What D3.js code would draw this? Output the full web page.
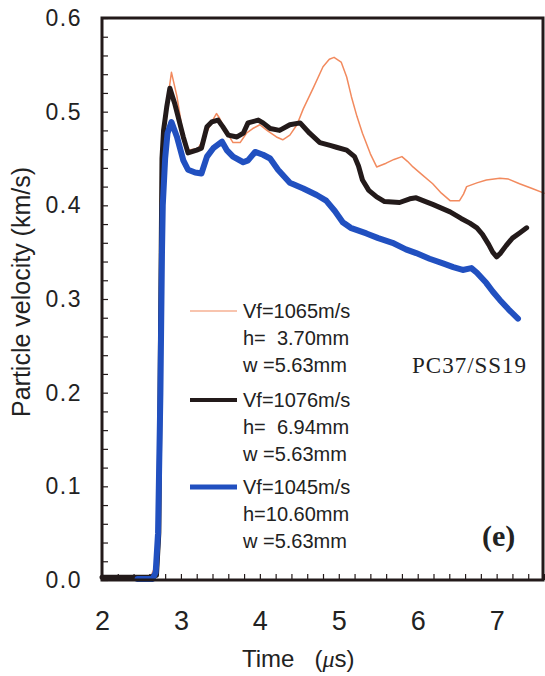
<!DOCTYPE html>
<html>
<head>
<meta charset="utf-8">
<script src="https://cdn.jsdelivr.net/npm/d3@7"></script>
<style>
  body { margin: 0; background: #fff; }
  svg { display: block; font-family: "Liberation Sans", Arial, sans-serif; }
  .tick line { stroke: #231a1a; stroke-width: 1.2; }
</style>
</head>
<body>
<div id="chart"></div>
<script>
// time axis values (microseconds) and particle velocity (km/s)
const orangeT = [2.0, 2.6, 2.7, 2.74, 2.77, 2.81, 2.86, 2.88, 2.95, 3.05, 3.11, 3.22, 3.30, 3.39, 3.45, 3.49, 3.58, 3.66, 3.75, 3.83, 3.91, 4.0, 4.09, 4.21, 4.29, 4.38, 4.47, 4.55, 4.68, 4.8, 4.88, 4.94, 5.03, 5.1, 5.16, 5.23, 5.3, 5.4, 5.48, 5.6, 5.7, 5.8, 5.87, 5.94, 6.05, 6.19, 6.3, 6.41, 6.53, 6.58, 6.62, 6.75, 6.87, 7.04, 7.15, 7.29, 7.45, 7.6];
const orangeV = [0.0, 0.0, 0.02, 0.3, 0.46, 0.5, 0.53, 0.542, 0.516, 0.464, 0.459, 0.461, 0.473, 0.489, 0.498, 0.493, 0.478, 0.467, 0.467, 0.477, 0.482, 0.486, 0.48, 0.473, 0.47, 0.475, 0.486, 0.503, 0.526, 0.548, 0.556, 0.558, 0.553, 0.537, 0.516, 0.495, 0.477, 0.455, 0.441, 0.445, 0.449, 0.452, 0.447, 0.441, 0.433, 0.423, 0.413, 0.405, 0.405, 0.412, 0.42, 0.424, 0.427, 0.429, 0.428, 0.423, 0.418, 0.413];

const blackT = [2.0, 2.6, 2.69, 2.72, 2.75, 2.76, 2.78, 2.82, 2.86, 2.92, 3.03, 3.09, 3.2, 3.26, 3.33, 3.39, 3.47, 3.53, 3.6, 3.71, 3.79, 3.85, 3.98, 4.04, 4.13, 4.25, 4.38, 4.51, 4.63, 4.76, 4.89, 4.97, 5.1, 5.2, 5.25, 5.3, 5.38, 5.48, 5.58, 5.77, 5.9, 5.98, 6.1, 6.19, 6.3, 6.41, 6.55, 6.66, 6.75, 6.82, 6.9, 6.95, 7.0, 7.05, 7.12, 7.2, 7.3, 7.38];
const blackV = [0.003, 0.003, 0.005, 0.05, 0.35, 0.45, 0.48, 0.505, 0.525, 0.509, 0.473, 0.456, 0.459, 0.461, 0.484, 0.489, 0.491, 0.484, 0.475, 0.473, 0.477, 0.488, 0.491, 0.488, 0.482, 0.48, 0.486, 0.488, 0.477, 0.467, 0.464, 0.462, 0.459, 0.452, 0.442, 0.427, 0.416, 0.409, 0.404, 0.403, 0.407, 0.408, 0.404, 0.401, 0.397, 0.393, 0.386, 0.381, 0.376, 0.369, 0.358, 0.35, 0.345, 0.349, 0.357, 0.365, 0.371, 0.376];

const blueT = [2.45, 2.64, 2.68, 2.71, 2.74, 2.76, 2.77, 2.8, 2.83, 2.88, 2.95, 3.03, 3.09, 3.18, 3.26, 3.33, 3.41, 3.52, 3.58, 3.66, 3.79, 3.85, 3.94, 4.04, 4.13, 4.23, 4.38, 4.55, 4.72, 4.84, 4.95, 5.05, 5.15, 5.35, 5.5, 5.68, 5.85, 5.98, 6.15, 6.32, 6.45, 6.57, 6.68, 6.75, 6.87, 6.95, 7.04, 7.15, 7.27];
const blueV = [0.001, 0.001, 0.008, 0.05, 0.2, 0.35, 0.4, 0.45, 0.477, 0.489, 0.473, 0.448, 0.438, 0.435, 0.434, 0.452, 0.461, 0.468, 0.459, 0.452, 0.446, 0.448, 0.457, 0.454, 0.45, 0.438, 0.424, 0.418, 0.411, 0.405, 0.394, 0.382, 0.376, 0.37, 0.365, 0.36, 0.353, 0.349, 0.343, 0.338, 0.334, 0.331, 0.333, 0.328, 0.317, 0.308, 0.299, 0.289, 0.279];

const xMajorTicks = [2, 3, 4, 5, 6, 7];
const yMajorTicks = [0, 0.1, 0.2, 0.3, 0.4, 0.5, 0.6];

const legendLabels = [
	["Vf=1065m/s", "h=  3.70mm", "w =5.63mm"],
	["Vf=1076m/s", "h=  6.94mm", "w =5.63mm"],
	["Vf=1045m/s", "h=10.60mm", "w =5.63mm"]
];

const series = [
	{ t: orangeT, v: orangeV, color: "#f28a5e", width: 1.5 },
	{ t: blackT, v: blackV, color: "#231a1a", width: 5 },
	{ t: blueT, v: blueV, color: "#2150c0", width: 6 }
];

const width = 545, height = 676;
const margin = { top: 18, right: 1, bottom: 96, left: 102 };

let svg = d3.select("#chart").append("svg")
	.attr("width", width)
	.attr("height", height);

let xScale = d3.scaleLinear()
	.domain([2, 7.6])
	.range([margin.left, width - margin.right]);

let yScale = d3.scaleLinear()
	.domain([0, 0.6])
	.range([height - margin.bottom, margin.top]);

// minor + major ticks pointing into the plot
let xMinor = d3.range(2, 7.61, 0.2);
let yMinor = d3.range(0, 0.601, 0.02);

svg.append("g")
	.attr("transform", `translate(0,${yScale(0)})`)
	.call(d3.axisBottom(xScale).tickValues(xMinor).tickSize(-6).tickFormat(""))
	.call(g => g.select(".domain").remove());

svg.append("g")
	.attr("transform", `translate(${xScale(2)},0)`)
	.call(d3.axisLeft(yScale).tickValues(yMinor).tickSize(-6).tickFormat(""))
	.call(g => g.select(".domain").remove());

// tick labels
svg.append("g")
	.attr("transform", `translate(0,${yScale(0)})`)
	.call(d3.axisBottom(xScale).tickValues(xMajorTicks).tickSize(0).tickPadding(31).tickFormat(d3.format("d")))
	.call(g => g.select(".domain").remove())
	.selectAll("text")
	.attr("font-size", 27)
	.attr("font-family", "Liberation Sans, Arial, sans-serif")
	.attr("fill", "#222");

svg.append("g")
	.attr("transform", `translate(${xScale(2)},0)`)
	.call(d3.axisLeft(yScale).tickValues(yMajorTicks).tickSize(0).tickPadding(20).tickFormat(d3.format(".1f")))
	.call(g => g.select(".domain").remove())
	.selectAll("text")
	.attr("font-size", 23)
	.attr("letter-spacing", 1.5)
	.attr("font-family", "Liberation Sans, Arial, sans-serif")
	.attr("fill", "#222");

// data lines
let lineFn = d3.line()
	.x(d => xScale(d[0]))
	.y(d => yScale(d[1]));

let plotG = svg.append("g").attr("class", "plotG");

plotG.selectAll(".series")
	.data(series)
	.join("path")
	.attr("class", "series")
	.attr("fill", "none")
	.attr("stroke", d => d.color)
	.attr("stroke-width", d => d.width)
	.attr("stroke-linejoin", "round")
	.attr("stroke-linecap", "round")
	.attr("d", d => lineFn(d.t.map((t, i) => [t, d.v[i]])));

// frame
svg.append("rect")
	.attr("x", xScale(2))
	.attr("y", yScale(0.6))
	.attr("width", xScale(7.6) - xScale(2) - 1)
	.attr("height", yScale(0) - yScale(0.6))
	.attr("fill", "none")
	.attr("stroke", "#231a1a")
	.attr("stroke-width", 3);

// legend
let legendG = svg.append("g").attr("class", "legendG");
let legendTop = [311, 400, 487];

series.forEach((s, i) => {
	legendG.append("line")
		.attr("x1", 190)
		.attr("x2", 237)
		.attr("y1", legendTop[i])
		.attr("y2", legendTop[i])
		.attr("stroke", s.color)
		.attr("stroke-width", s.width * 0.8);

	legendLabels[i].forEach((txt, j) => {
		legendG.append("text")
			.attr("x", 243)
			.attr("y", legendTop[i] + j * 27 + 7)
			.attr("font-size", 20)
			.attr("fill", "#222")
			.style("white-space", "pre")
			.text(txt);
	});
});

svg.append("text")
	.attr("x", 412)
	.attr("y", 373)
	.attr("font-family", "Liberation Serif, Times New Roman, serif")
	.attr("font-size", 23)
	.attr("letter-spacing", 1)
	.attr("fill", "#222")
	.text("PC37/SS19");

svg.append("text")
	.attr("x", 482)
	.attr("y", 546)
	.attr("font-family", "Liberation Serif, Times New Roman, serif")
	.attr("font-weight", "bold")
	.attr("font-size", 30)
	.attr("fill", "#222")
	.text("(e)");

// axis titles
let xTitle = svg.append("text")
	.attr("x", 242)
	.attr("y", 667)
	.attr("font-size", 24)
	.attr("fill", "#222")
	.style("white-space", "pre");
xTitle.append("tspan").text("Time   (");
xTitle.append("tspan").attr("font-style", "italic").attr("font-family", "Liberation Serif, serif").text("\u03bc");
xTitle.append("tspan").text("s)");

svg.append("text")
	.attr("transform", "translate(30,292) rotate(-90)")
	.attr("text-anchor", "middle")
	.attr("font-size", 25)
	.attr("fill", "#222")
	.text("Particle velocity (km/s)");
</script>
</body>
</html>
